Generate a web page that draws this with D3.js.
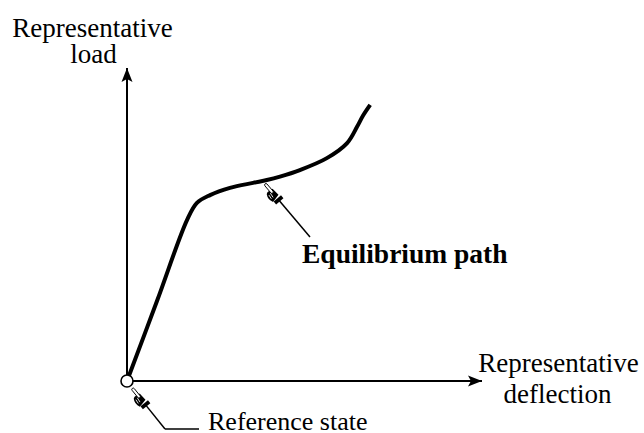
<!DOCTYPE html>
<html>
<head>
<meta charset="utf-8">
<script src="https://cdn.jsdelivr.net/npm/d3@7"></script>
<style>
  html, body { margin: 0; padding: 0; background: #fff; }
  svg { display: block; }
</style>
</head>
<body>
<svg id="chart" width="644" height="433"></svg>
<script>
// Equilibrium path: representative deflection vs representative load
const deflection = [0, 8.5, 16.9, 19.7, 23.4, 29.0, 35.5, 39.4, 43.1, 48.7, 56.3, 62.0, 64.8, 66.5, 68.5];
const load       = [0, 25.7, 51.4, 56.9, 59.4, 61.7, 63.3, 64.2, 65.3, 67.4, 71.2, 76.0, 81.2, 84.8, 88.2];

// Axis titles (one entry per line)
const yTitle = ["Representative", "load"];
const xTitle = ["Representative", "deflection"];
const pathLabel = "Equilibrium path";
const refLabel = "Reference state";

// Point on the path that the annotation hand indicates
const pathPointDeflection = 38.8;

const serif = "'Liberation Serif', Tinos, 'Times New Roman', Times, 'DejaVu Serif', serif";

const svg = d3.select("#chart");
const x = d3.scaleLinear().domain([0, 100]).range([127, 482]);
const y = d3.scaleLinear().domain([0, 100]).range([381, 68]);

// Axes with arrowheads
function arrow(x1, y1, x2, y2) {
  svg.append("line")
    .attr("x1", x1).attr("y1", y1).attr("x2", x2).attr("y2", y2)
    .attr("stroke", "#000").attr("stroke-width", 2);
  const a = Math.atan2(y2 - y1, x2 - x1) * 180 / Math.PI;
  svg.append("path")
    .attr("d", "M0,0 L-14,-5.5 L-11,0 L-14,5.5 Z")
    .attr("fill", "#000")
    .attr("transform", `translate(${x2},${y2}) rotate(${a})`);
}
arrow(x(0), y(0), x(0), y(100));
arrow(x(0), y(0), x(100), y(0));

// Equilibrium path curve
const pts = deflection.map((d, i) => [d, load[i]]);
const line = d3.line().x(d => x(d[0])).y(d => y(d[1])).curve(d3.curveCatmullRom.alpha(0.5));
svg.append("path")
  .datum(pts)
  .attr("d", line)
  .attr("fill", "none")
  .attr("stroke", "#000")
  .attr("stroke-width", 4)
  .attr("stroke-linejoin", "round");

// Reference state marker at the origin
svg.append("circle")
  .attr("cx", x(0)).attr("cy", y(0)).attr("r", 6)
  .attr("fill", "#fff").attr("stroke", "#000").attr("stroke-width", 1.6);

// Pointing hand with a leader line; tip at (tx,ty), leader toward (ex,ey)
function pointer(tx, ty, ex, ey) {
  const dx = ex - tx, dy = ey - ty;
  const len = Math.hypot(dx, dy);
  const a = Math.atan2(dy, dx) * 180 / Math.PI;
  const g = svg.append("g").attr("transform", `translate(${tx},${ty}) rotate(${a})`);
  g.append("line").attr("x1", 22).attr("y1", 0).attr("x2", len).attr("y2", 0)
    .attr("stroke", "#000").attr("stroke-width", 1.5);
  g.append("path")
    .attr("d", "M9,-2.6 L17.5,-3.2 L19.5,5.6 Q14,8.2 9.5,5.4 Q7.5,3 9,1 Z")
    .attr("fill", "#000");
  g.append("path")
    .attr("d", "M11,2 L16,2.6 M11.5,4.3 L16,4.8")
    .attr("stroke", "#fff").attr("stroke-width", 0.8);
  g.append("rect").attr("x", 0.5).attr("y", -1.4).attr("width", 12).attr("height", 2.8).attr("rx", 1.4)
    .attr("fill", "#fff").attr("stroke", "#000").attr("stroke-width", 0.9);
  g.append("rect").attr("x", 19.5).attr("y", -4.8).attr("width", 3.8).attr("height", 9.6)
    .attr("fill", "#000");
}

function label(tx, ty, str, size, opts = {}) {
  return svg.append("text")
    .attr("x", tx).attr("y", ty)
    .attr("font-family", serif)
    .attr("font-size", size)
    .attr("font-weight", opts.bold ? "bold" : "normal")
    .attr("text-anchor", opts.anchor || "start")
    .attr("fill", "#000")
    .text(str);
}

// Annotation for the equilibrium path
const pyAt = d3.scaleLinear().domain(deflection).range(load);
const px = x(pathPointDeflection), py = y(pyAt(pathPointDeflection)) + 3;
pointer(px, py, 310, 237);
label(302, 263, pathLabel, 27.5, { bold: true });

// Annotation for the reference state
pointer(x(0) + 5, y(0) + 7, 165, 429);
svg.append("line").attr("x1", 165).attr("y1", 429).attr("x2", 199).attr("y2", 429)
  .attr("stroke", "#000").attr("stroke-width", 1.5);
label(208, 430, refLabel, 26);

// Axis titles
label(92.5, 37, yTitle[0], 27, { anchor: "middle" });
label(93.5, 63, yTitle[1], 27, { anchor: "middle" });
label(558.5, 372, xTitle[0], 27, { anchor: "middle" });
label(557.5, 403, xTitle[1], 27, { anchor: "middle" });
</script>
</body>
</html>
